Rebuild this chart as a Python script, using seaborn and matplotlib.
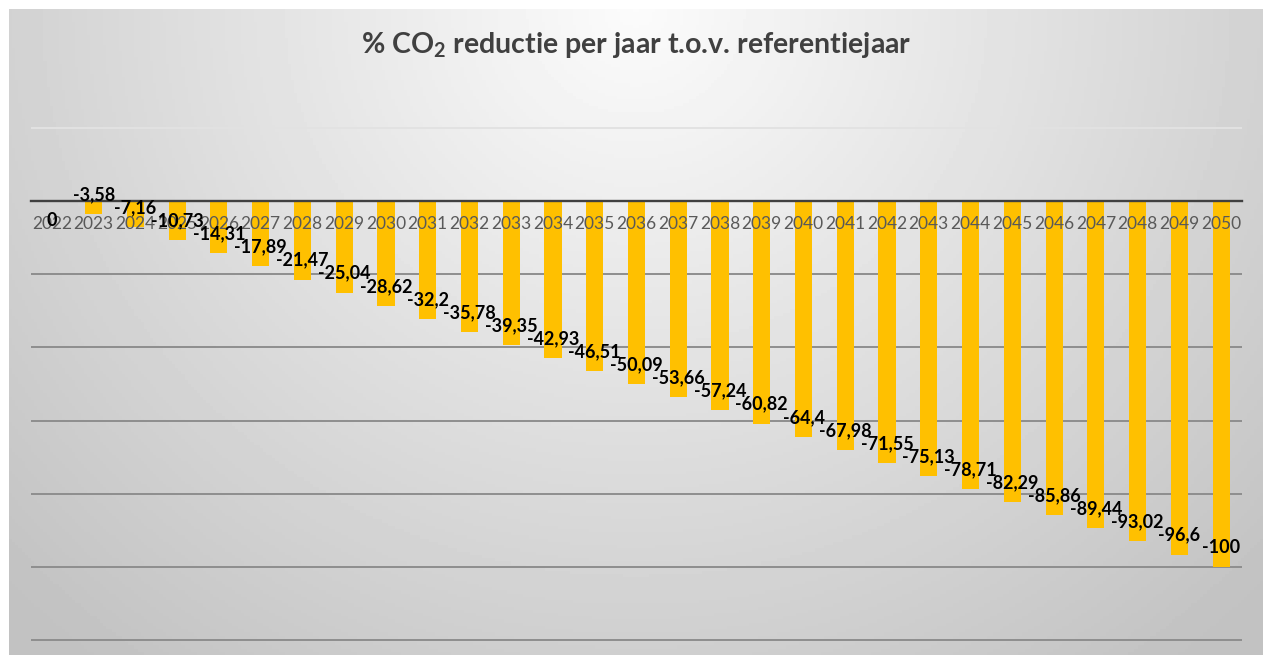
import numpy as np
import pandas as pd
import matplotlib
matplotlib.use("Agg")
import matplotlib.pyplot as plt
import seaborn as sns

years = [str(y) for y in range(2022, 2051)]
reduction = [0, -3.58, -7.16, -10.73, -14.31, -17.89, -21.47, -25.04, -28.62, -32.2,
             -35.78, -39.35, -42.93, -46.51, -50.09, -53.66, -57.24, -60.82, -64.4,
             -67.98, -71.55, -75.13, -78.71, -82.29, -85.86, -89.44, -93.02, -96.6, -100]
grid_values = [20, 0, -20, -40, -60, -80, -100, -120]

df = pd.DataFrame({"jaar": years, "reductie": reduction})

sns.set_theme(style="white")
plt.rcParams["font.family"] = ["Lato", "DejaVu Sans"]
plt.rcParams["mathtext.fontset"] = "custom"
plt.rcParams["mathtext.rm"] = "Lato:bold"
plt.rcParams["mathtext.bf"] = "Lato:bold"

W, H = 1263, 655
fig = plt.figure(figsize=(W / 100, H / 100), dpi=100)
fig.patch.set_facecolor("white")

# chart area background: radial grey gradient (lightest at top centre)
bg = fig.add_axes([9 / W, 0, 1 - 9 / W, 1 - 9 / H], zorder=0)
gx, gy = np.meshgrid(np.linspace(0, 1, 400), np.linspace(0, 1, 200))
r = np.sqrt(((gx - 0.5) / 0.62) ** 2 + (gy / 1.15) ** 2)
shade = np.clip(0.985 - 0.2 * r, 0.76, 1)
bg.imshow(shade, cmap="gray", vmin=0, vmax=1, aspect="auto", origin="upper",
          extent=[0, 1, 0, 1])
bg.set_axis_off()

# main axes: zero at y=201px, 3.66 px per unit
ppu = 3.66
ylo, yhi = -122, 22
bottom_px = 201 + (-ylo) * ppu
top_px = 201 - yhi * ppu
ax = fig.add_axes([31 / W, 1 - bottom_px / H, (1242 - 31) / W, (bottom_px - top_px) / H],
                  zorder=1)
ax.patch.set_alpha(0)

sns.barplot(data=df, x="jaar", y="reductie", color="#FFC000", width=0.41,
            saturation=1, linewidth=0, edgecolor="none", ax=ax, zorder=3)

ax.set_xlim(-0.5, len(years) - 0.5)
ax.set_ylim(ylo, yhi)
ax.set_yticks(grid_values)
ax.set_yticklabels([])
ax.tick_params(axis="y", length=0)
for gv in grid_values:
    if gv == 0:
        continue
    col = "#e2e2e2" if gv > 0 else "#8e8e8e"
    ax.axhline(gv, color=col, lw=1.4, zorder=1)

for s in ["top", "right", "left"]:
    ax.spines[s].set_visible(False)
ax.spines["bottom"].set_position(("data", 0))
ax.spines["bottom"].set_color("#404040")
ax.spines["bottom"].set_linewidth(1.7)
ax.spines["bottom"].set_zorder(4)
ax.tick_params(axis="x", length=0, pad=11, labelsize=12.5, labelcolor="#595959")
ax.xaxis.set_zorder(4.5)
ax.set_xlabel("")
ax.set_ylabel("")

for i, v in enumerate(reduction):
    off = -14 if v == 0 else 14
    label = f"{v:g}".replace(".", ",")
    ax.annotate(label, (i, v), xytext=(0, off), textcoords="offset points",
                ha="center", va="center", fontsize=13, fontweight="bold",
                color="black", zorder=5)

fig.text(636 / W, 1 - 45 / H, r"% CO$_\mathregular{2}$ reductie per jaar t.o.v. referentiejaar",
         ha="center", va="center", fontsize=20.5, fontweight="bold", color="#404040")

fig.savefig("out.png", dpi=100)
